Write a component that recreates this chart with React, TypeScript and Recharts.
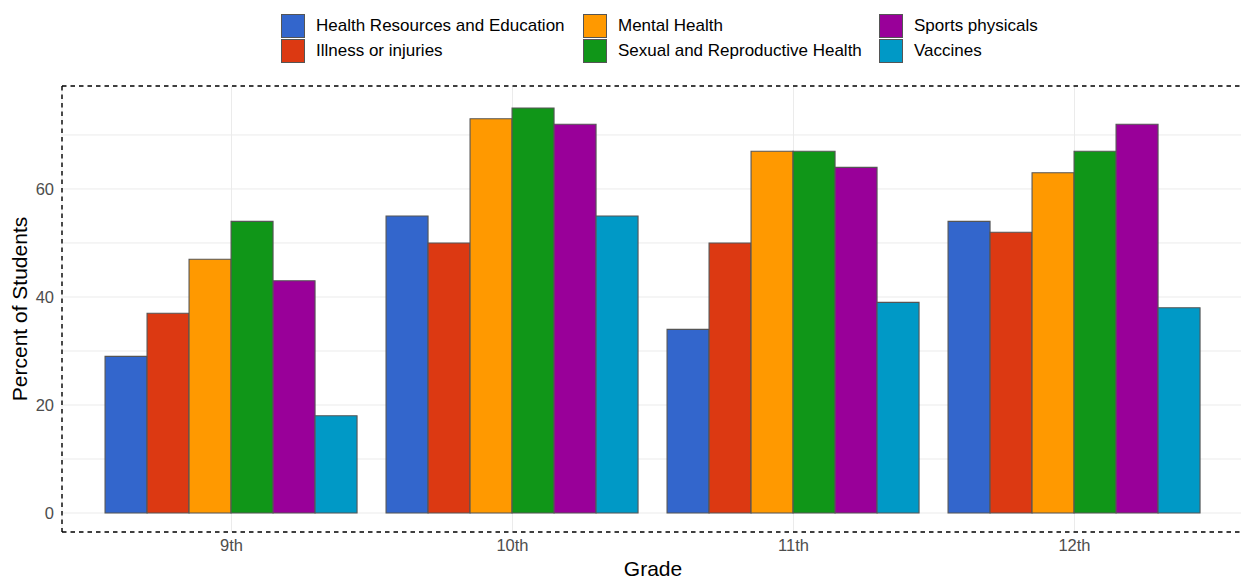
import {
  Bar,
  BarChart,
  CartesianGrid,
  Legend,
  ReferenceLine,
  XAxis,
  YAxis,
} from "recharts";

const grades = ["9th", "10th", "11th", "12th"];
const healthResources = [29, 55, 34, 54];
const illnessInjuries = [37, 50, 50, 52];
const mentalHealth = [47, 73, 67, 63];
const sexualReproductive = [54, 75, 67, 67];
const sportsPhysicals = [43, 72, 64, 72];
const vaccines = [18, 55, 39, 38];

const seriesNames = [
  "Health Resources and Education",
  "Illness or injuries",
  "Mental Health",
  "Sexual and Reproductive Health",
  "Sports physicals",
  "Vaccines",
];
const yTicks = [0, 20, 40, 60];
const gridValues = [0, 10, 20, 30, 40, 50, 60, 70];

const seriesValues = [
  healthResources,
  illnessInjuries,
  mentalHealth,
  sexualReproductive,
  sportsPhysicals,
  vaccines,
];
const colors = ["#3366CC", "#DC3912", "#FF9900", "#109618", "#990099", "#0099C6"];

const data = grades.map((grade, i) => {
  const row: Record<string, string | number> = { grade };
  seriesNames.forEach((name, s) => {
    row[name] = seriesValues[s][i];
  });
  return row;
});

const FONT = '"Liberation Sans", Arial, Helvetica, sans-serif';
const Y_MIN = -3.52;
const Y_MAX = 79.07;
const DASH = "4.5 4";

// ggplot-like legend: 3 columns x 2 rows, filled column by column
const renderLegend = (props: any) => {
  const payload = props.payload || [];
  return (
    <div
      style={{
        display: "grid",
        gridTemplateColumns: "302px 296px auto",
        gridTemplateRows: "25px 25px",
        gridAutoFlow: "column",
        fontFamily: FONT,
        fontSize: 17,
        color: "#000",
      }}
    >
      {payload.map((entry: any) => (
        <div
          key={entry.value}
          style={{ display: "flex", alignItems: "center", height: 25 }}
        >
          <span
            style={{
              width: 24,
              height: 24,
              boxSizing: "border-box",
              background: entry.color,
              border: "1px solid #555",
              marginRight: 11,
              flex: "none",
            }}
          />
          <span style={{ whiteSpace: "nowrap" }}>{entry.value}</span>
        </div>
      ))}
    </div>
  );
};

export default function App() {
  return (
    <div
      style={{
        position: "absolute",
        left: 0,
        top: 0,
        width: 1241,
        height: 582,
        overflow: "hidden",
        background: "#fff",
      }}
    >
      <BarChart
        width={1246}
        height={582}
        data={data}
        margin={{ top: 86, right: 2, bottom: 0, left: 0 }}
        barCategoryGap="5%"
        barGap={0}
        style={{ fontFamily: FONT }}
      >
        <CartesianGrid
          stroke="#EBEBEB"
          strokeWidth={1}
          horizontalValues={gridValues}
        />
        <XAxis
          dataKey="grade"
          padding={{ left: 29, right: 29 }}
          height={50}
          axisLine={{ stroke: "#000", strokeDasharray: DASH, strokeWidth: 1.4 }}
          tickLine={false}
          tickMargin={1}
          tick={{ fill: "#4D4D4D", fontSize: 16.5 }}
          label={{
            value: "Grade",
            position: "center",
            dy: 12,
            fill: "#000",
            fontSize: 21,
          }}
        />
        <YAxis
          width={62}
          domain={[Y_MIN, Y_MAX]}
          ticks={yTicks}
          allowDataOverflow
          axisLine={{ stroke: "#000", strokeDasharray: DASH, strokeWidth: 1.4 }}
          tickLine={false}
          tick={{ fill: "#4D4D4D", fontSize: 16.5 }}
          label={{
            value: "Percent of Students",
            angle: -90,
            position: "center",
            dx: -11,
            fill: "#000",
            fontSize: 21,
          }}
        />
        <ReferenceLine
          y={Y_MAX}
          stroke="#000"
          strokeDasharray={DASH}
          strokeWidth={1.4}
        />
        <Legend
          verticalAlign="middle"
          align="center"
          layout="horizontal"
          content={renderLegend}
          wrapperStyle={{ top: 13, left: 281, width: 960, height: 50 }}
        />
        {seriesNames.map((name, s) => (
          <Bar
            key={name}
            dataKey={name}
            name={name}
            fill={colors[s]}
            stroke="#555"
            strokeWidth={1.1}
            isAnimationActive={false}
          />
        ))}
      </BarChart>
    </div>
  );
}
